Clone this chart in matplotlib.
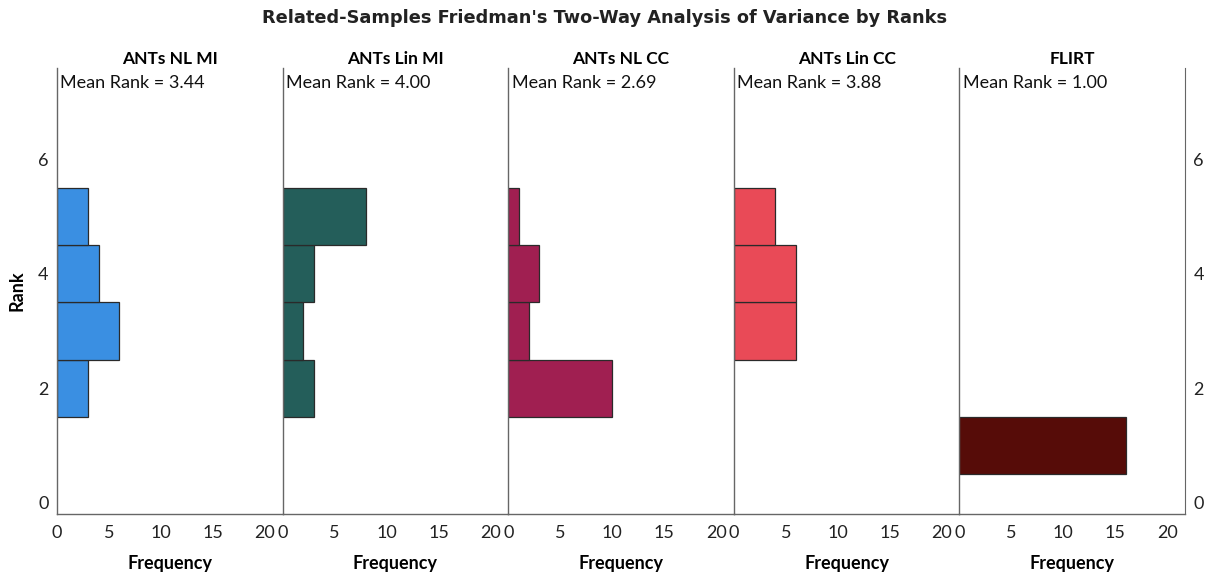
import matplotlib.pyplot as plt

methods = ['ANTs NL MI', 'ANTs Lin MI', 'ANTs NL CC', 'ANTs Lin CC', 'FLIRT']
mean_ranks = ['3.44', '4.00', '2.69', '3.88', '1.00']
ranks = [1, 2, 3, 4, 5]
# frequency of each rank (1..5) per method
freq_nl_mi = [0, 3, 6, 4, 3]
freq_lin_mi = [0, 3, 2, 3, 8]
freq_nl_cc = [0, 10, 2, 3, 1]
freq_lin_cc = [0, 0, 6, 6, 4]
freq_flirt = [16, 0, 0, 0, 0]
freqs = [freq_nl_mi, freq_lin_mi, freq_nl_cc, freq_lin_cc, freq_flirt]
colors = ['#3a8fe2', '#245e5a', '#a01f51', '#e94a57', '#560c08']

plt.rcParams['font.family'] = ['Lato', 'DejaVu Sans']
spine_col = '#666666'

fig = plt.figure(figsize=(12.09, 5.74), dpi=100)
fig.text(0.5, 0.968, "Related-Samples Friedman's Two-Way Analysis of Variance by Ranks",
         ha='center', va='center', fontsize=12.8, fontweight='bold',
         family='DejaVu Sans', color='#222222')

left = 57 / 1209
w = 225.6 / 1209
bottom = 1 - 514 / 574
h = (514 - 68) / 574

for i, name in enumerate(methods):
    ax = fig.add_axes([left + i * w, bottom, w, h])
    # skip empty ranks so no zero-width outlines are drawn
    r = [k for k, f in zip(ranks, freqs[i]) if f > 0]
    f = [v for v in freqs[i] if v > 0]
    ax.barh(r, f, height=1.0, color=colors[i],
            edgecolor='#2a2a2a', linewidth=0.9)
    ax.set_xlim(0, 21.7)
    ax.set_ylim(-0.2, 7.6)
    ax.set_xticks([0, 5, 10, 15, 20])
    ax.set_yticks([0, 2, 4, 6])
    ax.tick_params(length=0, labelsize=13, colors='#222222', pad=8)
    for s in ['top', 'right']:
        ax.spines[s].set_visible(False)
    for s in ['left', 'bottom']:
        ax.spines[s].set_color(spine_col)
        ax.spines[s].set_linewidth(1.0)
    if i == 0:
        ax.set_ylabel('Rank', fontsize=13, fontweight='bold')
        ax.yaxis.set_label_coords(-0.14, 0.5)
        ax.tick_params(axis='y', pad=6)
    elif i == len(methods) - 1:
        ax.spines['right'].set_visible(True)
        ax.spines['right'].set_color(spine_col)
        ax.yaxis.tick_right()
        ax.tick_params(axis='y', length=0, pad=6)
    else:
        ax.set_yticklabels([])
    ax.set_xlabel('Frequency', fontsize=13, fontweight='bold', labelpad=10)
    ax.set_title(name, fontsize=12.5, fontweight='bold', pad=3)
    ax.text(0.015, 0.985, 'Mean Rank = ' + mean_ranks[i], transform=ax.transAxes,
            ha='left', va='top', fontsize=13, color='#111111')
    ax.patch.set_alpha(0)

fig.savefig('out.png', dpi=100)
